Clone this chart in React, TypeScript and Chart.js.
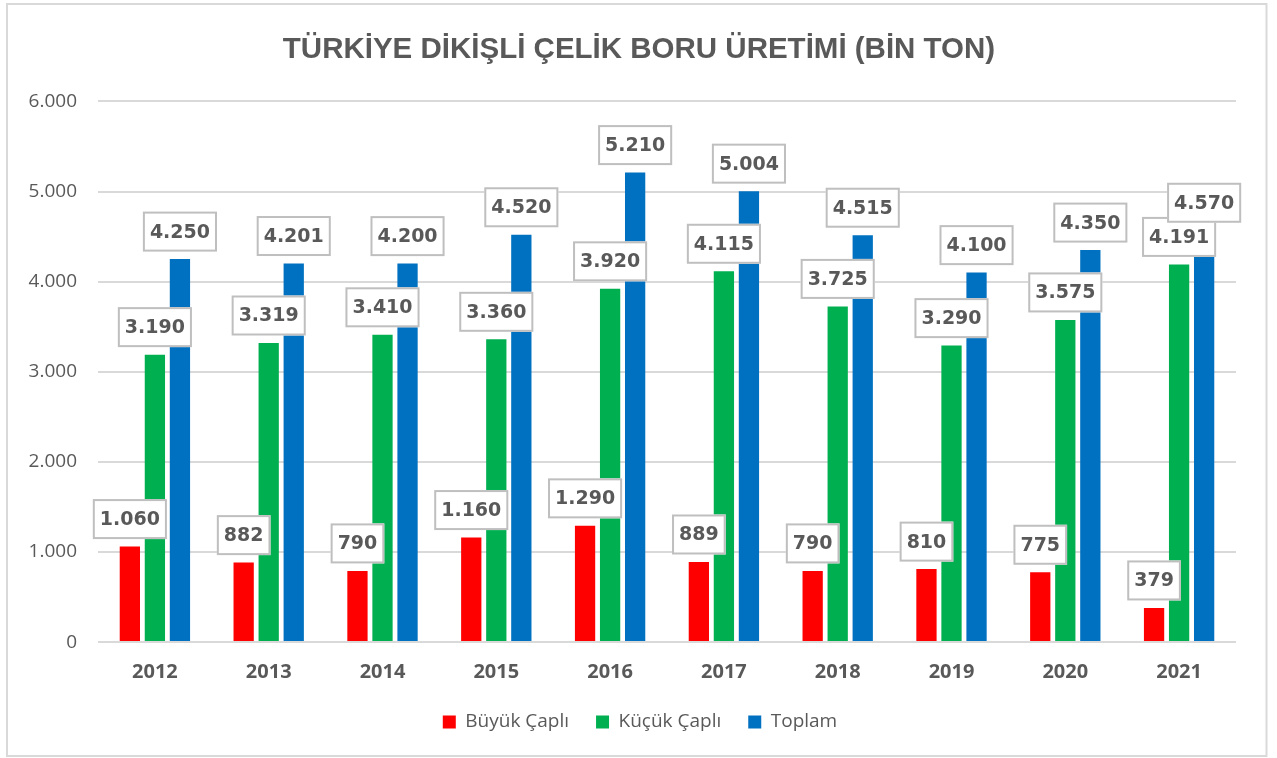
import React, { useEffect, useRef } from 'react';
import { Chart, registerables } from 'chart.js';

Chart.register(...registerables);

const years = ['2012', '2013', '2014', '2015', '2016', '2017', '2018', '2019', '2020', '2021'];
const buyukCapli = [1060, 882, 790, 1160, 1290, 889, 790, 810, 775, 379];
const kucukCapli = [3190, 3319, 3410, 3360, 3920, 4115, 3725, 3290, 3575, 4191];
const toplam = [4250, 4201, 4200, 4520, 5210, 5004, 4515, 4100, 4350, 4570];
const seriesNames = ['Büyük Çaplı', 'Küçük Çaplı', 'Toplam'];
const seriesColors = ['#ff0000', '#00b050', '#0070c0'];
const yMin = 0;
const yMax = 6000;
const yStep = 1000;
const titleText = 'TÜRKİYE DİKİŞLİ ÇELİK BORU ÜRETİMİ (BİN TON)';

const fmt = (n: number) => String(n).replace(/\B(?=(\d{3})+(?!\d))/g, '.');

const framePlugin = {
  id: 'frame',
  beforeDraw(chart: any) {
    const ctx = chart.ctx;
    ctx.save();
    ctx.fillStyle = '#ffffff';
    ctx.fillRect(0, 0, chart.width, chart.height);
    ctx.strokeStyle = '#d9d9d9';
    ctx.lineWidth = 2;
    ctx.strokeRect(7, 4, 1259.5, 752);
    ctx.restore();
  },
};

const centerShiftPlugin = {
  id: 'centerShift',
  afterLayout(chart: any) {
    const lg = chart.legend;
    if (lg) {
      lg.left += 22;
      lg.right += 22;
    }
    const tb = chart.titleBlock;
    if (tb) {
      tb.left += 21;
      tb.right += 21;
    }
  },
};

const boxLabelPlugin = {
  id: 'boxLabels',
  afterDatasetsDraw(chart: any) {
    const ctx = chart.ctx;
    ctx.save();
    ctx.font = 'bold 19px "DejaVu Sans"';
    chart.data.datasets.forEach((ds: any, i: number) => {
      const meta = chart.getDatasetMeta(i);
      meta.data.forEach((bar: any, j: number) => {
        const txt = fmt(ds.data[j]);
        const w = ctx.measureText(txt).width + 14;
        const h = 40;
        const bottom = bar.y - 7.5;
        const left = bar.x - w / 2;
        ctx.fillStyle = '#ffffff';
        ctx.fillRect(left, bottom - h, w, h);
        ctx.strokeStyle = '#bfbfbf';
        ctx.lineWidth = 2;
        ctx.strokeRect(left + 1, bottom - h + 1, w - 2, h - 2);
        ctx.fillStyle = '#595959';
        ctx.textAlign = 'center';
        ctx.textBaseline = 'middle';
        ctx.fillText(txt, bar.x, bottom - h / 2 + 1);
      });
    });
    ctx.restore();
  },
};

export default function App() {
  const ref = useRef<HTMLCanvasElement | null>(null);

  useEffect(() => {
    if (!ref.current) return;
    const values = [buyukCapli, kucukCapli, toplam];
    const chart = new Chart(ref.current, {
      type: 'bar',
      data: {
        labels: years,
        datasets: values.map((v, i) => ({
          label: seriesNames[i],
          data: v,
          backgroundColor: seriesColors[i],
          borderWidth: 0,
          categoryPercentage: 0.66,
          barPercentage: 0.81,
        })),
      },
      options: {
        animation: false,
        responsive: false,
        layout: { padding: { left: 0, right: 41, top: 0, bottom: 16.6 } },
        plugins: {
          title: {
            display: true,
            text: titleText,
            color: '#595959',
            font: { family: '"Liberation Sans", Arial, sans-serif', size: 29.5, weight: 'bold' },
            padding: { top: 32, bottom: 34 },
          },
          legend: {
            position: 'bottom',
            labels: {
              boxWidth: 13,
              boxHeight: 13,
              padding: 27,
              color: '#595959',
              font: { family: '"Open Sans"', size: 19 },
            },
          },
          tooltip: { enabled: false },
        },
        scales: {
          x: {
            grid: { display: false, drawTicks: false },
            border: { display: false },
            ticks: {
              color: '#595959',
              padding: 18.3,
              font: { family: '"Open Sans"', size: 20, weight: 'bold' },
            },
            afterFit(scale: any) {
              scale.height = 43.3;
            },
          },
          y: {
            min: yMin,
            max: yMax,
            grid: { color: '#d9d9d9', lineWidth: 2, drawTicks: false },
            border: { display: false },
            ticks: {
              stepSize: yStep,
              color: '#595959',
              padding: 21,
              font: { family: '"Open Sans"', size: 19 },
              callback: (v: any) => fmt(Number(v)),
            },
            afterFit(scale: any) {
              scale.width = 98;
            },
          },
        },
      },
      plugins: [framePlugin, centerShiftPlugin, boxLabelPlugin],
    } as any);
    return () => chart.destroy();
  }, []);

  return (
    <div style={{ position: 'absolute', left: 0, top: 0, width: 1277, height: 758 }}>
      <canvas ref={ref} width={1277} height={758} style={{ display: 'block' }} />
    </div>
  );
}
